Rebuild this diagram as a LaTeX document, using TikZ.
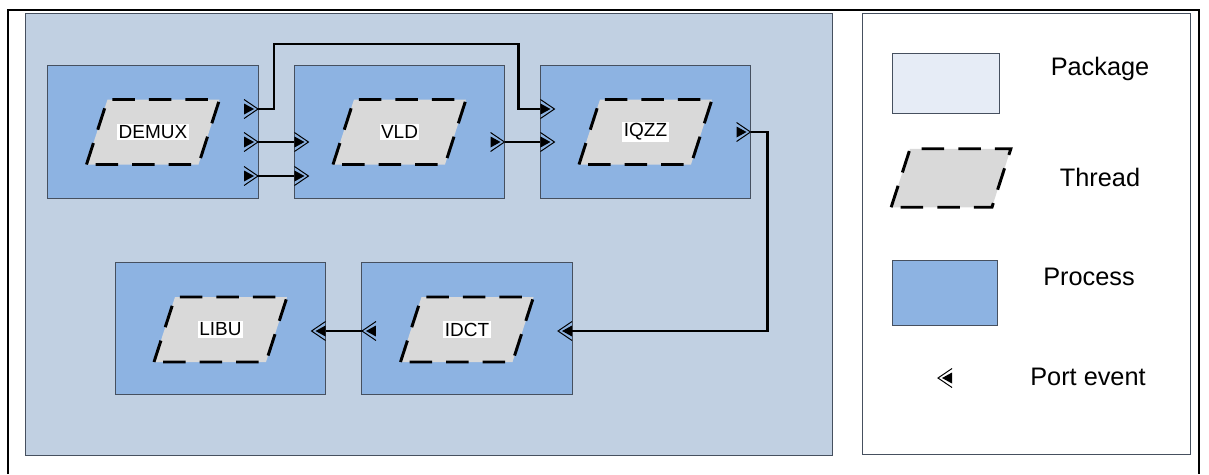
\documentclass[tikz,border=0pt]{standalone}
\usepackage{fontspec}
\setmainfont{Liberation Sans}
\usetikzlibrary{calc}

\definecolor{pkgfill}{RGB}{193,208,226}
\definecolor{pkgkey}{RGB}{230,236,246}
\definecolor{procfill}{RGB}{141,179,226}
\definecolor{threadfill}{RGB}{217,217,217}
\definecolor{boxline}{RGB}{70,80,95}

\tikzset{
  proc/.style={draw=boxline, fill=procfill, line width=0.7pt, minimum width=5.25cm, minimum height=3.3cm, outer sep=0pt},
  threadline/.style={fill=threadfill, draw=black, line width=2.1pt, dash pattern=on 16pt off 10pt},
  tlabel/.style={fill=white, inner sep=1pt, font=\fontsize{13.5}{15}\selectfont},
  keytext/.style={font=\fontsize{18}{21}\selectfont},
  wire/.style={line width=1.7pt},
  threadshape/.pic={
    \path[threadline] (-66.5,32.5) -- ++(21,-65) -- ++(112,0) -- ++(-21,65) -- cycle;
  },
  portr/.pic={
    \fill (0,-5.5) -- (10,0) -- (0,5.5) -- cycle;
    \draw[line width=0.7pt] (0,-9.5) -- (14,0) -- (0,9.5);
  },
  portl/.pic={
    \fill (0,-5.5) -- (-10,0) -- (0,5.5) -- cycle;
    \draw[line width=0.7pt] (0,-9.5) -- (-14,0) -- (0,9.5);
  }
}

\begin{document}
\begin{tikzpicture}[x=0.025cm, y=-0.025cm]
  \useasboundingbox (0,0) rectangle (1209,474);
  % frames
  \draw[line width=1.4pt] (8,474) -- (8,10) -- (1199,10) -- (1199,474);
  \draw[draw=boxline, fill=pkgfill, line width=0.7pt] (25,13) rectangle (832,455);
  \draw[draw=boxline, line width=0.7pt] (862,13) rectangle (1190,454);

  % processes
  \node[proc] (demux) at (153,132) {};
  \node[proc] (vld) at (399.5,132) {};
  \node[proc] (iqzz) at (645.5,132) {};
  \node[proc] (libu) at (220.5,328.5) {};
  \node[proc] (idct) at (467,328.5) {};

  % threads
  \pic at (demux) {threadshape};
  \pic at (vld) {threadshape};
  \pic at (iqzz) {threadshape};
  \pic at ($(libu)+(0,1)$) {threadshape};
  \pic at ($(idct)+(0,1)$) {threadshape};
  \node[tlabel] (demux-txt) at (demux) {DEMUX};
  \node[tlabel] (vld-txt) at (vld) {VLD};
  \node[tlabel] (iqzz-txt) at (iqzz) {IQZZ};
  \node[tlabel] (libu-txt) at ($(libu)+(0,1)$) {LIBU};
  \node[tlabel] (idct-txt) at ($(idct)+(0,1)$) {IDCT};

  % port events
  \coordinate (demux-o1) at ($(demux.east)+(0,-23)$);
  \coordinate (demux-o2) at ($(demux.east)+(0,10)$);
  \coordinate (demux-o3) at ($(demux.east)+(0,44)$);
  \coordinate (vld-i1) at ($(vld.west)+(0,10)$);
  \coordinate (vld-i2) at ($(vld.west)+(0,44)$);
  \coordinate (vld-o1) at ($(vld.east)+(0,10)$);
  \coordinate (iqzz-i1) at ($(iqzz.west)+(0,-23)$);
  \coordinate (iqzz-i2) at ($(iqzz.west)+(0,10)$);
  \coordinate (iqzz-o1) at (iqzz.east);
  \coordinate (idct-i1) at ($(idct.east)+(0,2.5)$);
  \coordinate (idct-o1) at ($(idct.west)+(0,2.5)$);
  \coordinate (libu-i1) at ($(libu.east)+(0,2.5)$);

  \pic at ($(demux-o1)+(-14,0)$) {portr};
  \pic at ($(demux-o2)+(-14,0)$) {portr};
  \pic at ($(demux-o3)+(-14,0)$) {portr};
  \pic at (vld-i1) {portr};
  \pic at (vld-i2) {portr};
  \pic at ($(vld-o1)+(-14,0)$) {portr};
  \pic at (iqzz-i1) {portr};
  \pic at (iqzz-i2) {portr};
  \pic at ($(iqzz-o1)+(-14,0)$) {portr};
  \pic at (idct-i1) {portl};
  \pic at ($(idct-o1)+(14,0)$) {portl};
  \pic at (libu-i1) {portl};

  % connectors
  \draw[wire] (demux-o1) -- ++(16,0) -- ++(0,-65) -| ($(iqzz-i1)+(-22,0)$) -- (iqzz-i1);
  \draw[wire] (demux-o2) -- (vld-i1);
  \draw[wire] (demux-o3) -- (vld-i2);
  \draw[wire] (vld-o1) -- (iqzz-i2);
  \draw[wire] (iqzz-o1) -- ++(17,0) |- (idct-i1);
  \draw[wire] (idct-o1) -- (libu-i1);

  % legend
  \node[draw=boxline, fill=pkgkey, line width=0.7pt, minimum width=2.675cm, minimum height=1.5cm] (key-pkg) at (945.5,83) {};
  \node[keytext] (key-pkg-txt) at (1100,69) {Package};
  \pic[scale=0.9] at (951,178) {threadshape};
  \node[keytext] (key-thread-txt) at (1100,177) {Thread};
  \node[proc, minimum width=2.625cm, minimum height=1.625cm] (key-proc) at (944.5,292.5) {};
  \node[keytext] (key-proc-txt) at (1089,277) {Process};
  \pic at (952,378) {portl};
  \node[keytext] (key-port-txt) at (1088,377) {Port event};
\end{tikzpicture}
\end{document}
